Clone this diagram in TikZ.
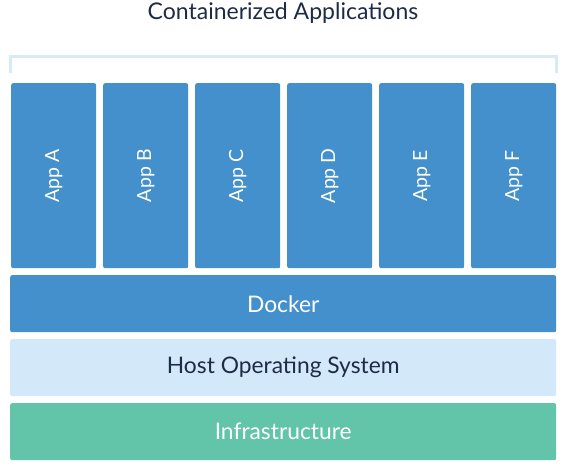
\documentclass[tikz,border=0pt]{standalone}
\usepackage{fontspec}
\setmainfont{Lato}
\definecolor{appblue}{HTML}{4390CC}
\definecolor{hostblue}{HTML}{D3E8F8}
\definecolor{infragreen}{HTML}{62C4A8}
\definecolor{navy}{HTML}{1E2B45}
\definecolor{bracketblue}{HTML}{D6EAF8}
\begin{document}
\begin{tikzpicture}[x=1pt,y=-1pt,
  layer/.style={rounded corners=2pt, inner sep=0pt, anchor=north west},
  appbox/.style={layer, fill=appblue, minimum width=85pt, minimum height=185pt},
  applabel/.style={text=white, font=\fontsize{19.5}{22}\selectfont, rotate=90},
  wide/.style={layer, minimum width=546pt, minimum height=57pt},
  widelabel/.style={font=\fontsize{22.8}{26}\selectfont}]
\useasboundingbox (0,0) rectangle (566,469);
\node[font=\fontsize{23}{26}\selectfont, text=navy] (title) at (283,13) {Containerized Applications};
\coordinate (bl) at (10,73);
\coordinate (tl) at (10,56);
\coordinate (tr) at (556,56);
\coordinate (br) at (556,73);
\draw[bracketblue, line width=3pt] (bl) -- (tl) -- (tr) -- (br);
\foreach \n/\x in {A/11,B/103,C/195,D/287,E/379,F/471} {
  \node[appbox] (app\n) at (\x,83) {};
  \node[applabel] (lab\n) at (app\n.center) {App \n};
}
\node[wide, fill=appblue] (docker) at (10,275) {};
\node[widelabel, text=white] (dockerlab) at (docker.center) {Docker};
\node[wide, fill=hostblue] (host) at (10,339) {};
\node[widelabel, text=navy] (hostlab) at (host.center) {Host Operating System};
\node[wide, fill=infragreen] (infra) at (10,403) {};
\node[widelabel, text=white] (infralab) at (infra.center) {Infrastructure};
\end{tikzpicture}
\end{document}
